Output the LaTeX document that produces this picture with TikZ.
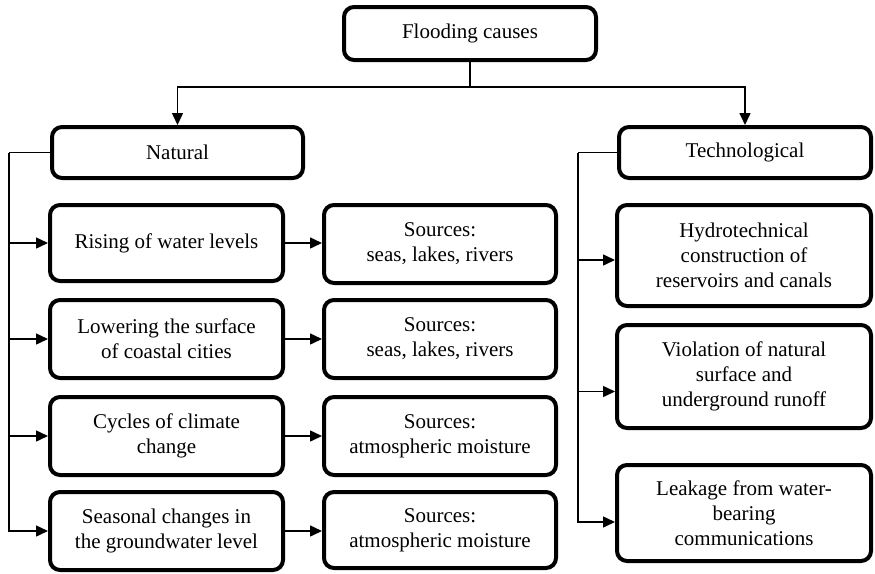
\documentclass[tikz,border=0pt]{standalone}
\usepackage{fontspec}
\setmainfont{Liberation Serif}
\usetikzlibrary{arrows.meta}
\begin{document}
\begin{tikzpicture}[x=1pt,y=-1pt,
  box/.style={draw=black,line width=4pt,rounded corners=10pt,fill=white,
    align=center,inner sep=0pt,text=black,
    font=\fontsize{21}{25}\selectfont},
  plain/.style={line width=1.5pt,draw=black},
  link/.style={plain,-{Triangle[length=12pt,width=11pt]}}]
\useasboundingbox (0,0) rectangle (875,573);

% top level
\node[box,minimum width=252pt,minimum height=53pt] (top) at (470,33.5) {Flooding causes};
\node[box,minimum width=251pt,minimum height=51pt] (nat) at (177.5,152.5) {Natural};
\node[box,minimum width=252pt,minimum height=51pt] (tech) at (745,152.5) {Technological};

% natural causes
\node[box,minimum width=233pt,minimum height=76pt] (r1) at (166.5,243) {Rising of water levels};
\node[box,minimum width=233pt,minimum height=78pt] (r2) at (166.5,339) {Lowering the surface\\of coastal cities};
\node[box,minimum width=233pt,minimum height=78pt] (r3) at (166.5,436) {Cycles of climate\\change};
\node[box,minimum width=233pt,minimum height=78pt] (r4) at (166.5,531) {Seasonal changes in\\the groundwater level};

% sources
\node[box,minimum width=232pt,minimum height=78pt] (s1) at (440,244) {Sources:\\seas, lakes, rivers};
\node[box,minimum width=232pt,minimum height=78pt] (s2) at (440,339) {Sources:\\seas, lakes, rivers};
\node[box,minimum width=232pt,minimum height=78pt] (s3) at (440,436) {Sources:\\atmospheric moisture};
\node[box,minimum width=232pt,minimum height=76pt] (s4) at (440,530) {Sources:\\atmospheric moisture};

% technological causes
\node[box,minimum width=254pt,minimum height=101pt] (t1) at (744,255.5) {Hydrotechnical\\construction of\\reservoirs and canals};
\node[box,minimum width=254pt,minimum height=103pt] (t2) at (744,376.5) {Violation of natural\\surface and\\underground runoff};
\node[box,minimum width=254pt,minimum height=96pt] (t3) at (744,513) {Leakage from water-\\bearing\\communications};

% split from the top box
\coordinate (split) at (470,87);
\draw[plain] (top.south) -- (split);
\draw[link] (split) -| (nat.north);
\draw[link] (split) -| (tech.north);

% left bracket
\coordinate (lbar) at (9,152.5);
\draw[plain] (nat.west) -- (lbar);
\draw[link] (lbar) |- (r4.west);
\draw[link] (lbar |- r1.west) -- (r1.west);
\draw[link] (lbar |- r2.west) -- (r2.west);
\draw[link] (lbar |- r3.west) -- (r3.west);

% causes to sources
\draw[link] (r1.east) -- (r1.east -| s1.west);
\draw[link] (r2.east) -- (s2.west);
\draw[link] (r3.east) -- (r3.east -| s3.west);
\draw[link] (r4.east) -- (r4.east -| s4.west);

% right bracket, entry points on the technological boxes
\coordinate (t1in) at ([yshift=-4.5pt]t1.west);
\coordinate (t2in) at ([yshift=-15pt]t2.west);
\coordinate (t3in) at ([yshift=-9pt]t3.west);
\coordinate (rbar) at (578,152.5);
\draw[plain] (tech.west) -- (rbar);
\draw[link] (rbar) |- (t3in);
\draw[link] (rbar |- t1in) -- (t1in);
\draw[link] (rbar |- t2in) -- (t2in);
\end{tikzpicture}
\end{document}
